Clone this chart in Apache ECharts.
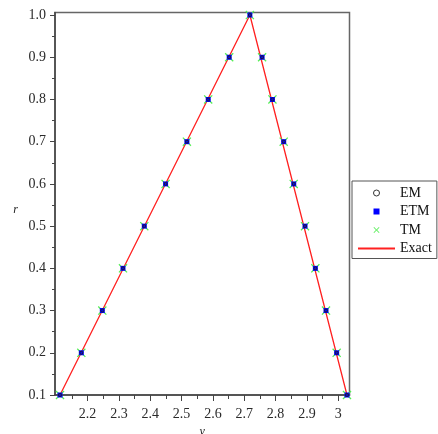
<!DOCTYPE html>
<html>
<head>
<meta charset="utf-8">
<script src="https://cdn.jsdelivr.net/npm/echarts@6/dist/echarts.min.js"></script>
<style>
html, body { margin: 0; padding: 0; background: #fff; }
#chart { width: 438px; height: 434px; }
</style>
</head>
<body>
<div id="chart"></div>
<script>
// r levels, left and right branch (y values)
const rValues = [0.1, 0.2, 0.3, 0.4, 0.5, 0.6, 0.7, 0.8, 0.9, 1.0];
const yLeft = [2.112, 2.180, 2.247, 2.313, 2.381, 2.449, 2.517, 2.585, 2.652, 2.718];
const yRight = [3.028, 2.995, 2.961, 2.927, 2.894, 2.858, 2.826, 2.790, 2.757, 2.718];
const exactY = [2.112, 2.718, 3.028];
const exactR = [0.1, 1.0, 0.1];

const xTicks = [2.2, 2.3, 2.4, 2.5, 2.6, 2.7, 2.8, 2.9, 3.0];
const xTickLabels = ['2.2', '2.3', '2.4', '2.5', '2.6', '2.7', '2.8', '2.9', '3'];
const xMinorTicks = [2.15, 2.25, 2.35, 2.45, 2.55, 2.65, 2.75, 2.85, 2.95];
const rTicks = [0.1, 0.2, 0.3, 0.4, 0.5, 0.6, 0.7, 0.8, 0.9, 1.0];
const rTickLabels = ['0.1', '0.2', '0.3', '0.4', '0.5', '0.6', '0.7', '0.8', '0.9', '1.0'];
const rMinorTicks = [0.15, 0.25, 0.35, 0.45, 0.55, 0.65, 0.75, 0.85, 0.95];

const points = [];
for (let i = 0; i < rValues.length; i++) points.push([yLeft[i], rValues[i]]);
for (let i = rValues.length - 2; i >= 0; i--) points.push([yRight[i], rValues[i]]);
const exactLine = exactY.map((v, i) => [v, exactR[i]]);

const xMin = 2.096, xMax = 3.036, rMin = 0.1, rMax = 1.006;
const serif = 'Liberation Serif';
const crossPath = 'path://M1,0L5,4L9,0L10,1L6,5L10,9L9,10L5,6L1,10L0,9L4,5L0,1Z';
const squarePath = 'path://M0,0H10V10H0Z';

const labelText = (vals, labels) => (v) => {
  const k = vals.findIndex(t => Math.abs(t - v) < 1e-6);
  return k >= 0 ? labels[k] : '';
};

const chart = echarts.init(document.getElementById('chart'));
chart.setOption({
  animation: false,
  grid: {
    left: 55, right: 88.5, top: 12.5, bottom: 39,
    outerBoundsMode: 'none', containLabel: false,
    show: true, borderColor: '#666', borderWidth: 1.5, backgroundColor: '#fff'
  },
  legend: {
    left: 352, top: 181,
    orient: 'vertical',
    padding: [5, 5, 3, 5],
    itemGap: 4.5,
    itemWidth: 37, itemHeight: 6,
    symbolKeepAspect: true,
    borderColor: '#555', borderWidth: 1,
    textStyle: { fontFamily: serif, fontSize: 14, color: '#111', lineHeight: 14 },
    data: [
      { name: 'EM', icon: 'circle', itemStyle: { color: 'transparent', borderColor: '#333', borderWidth: 1 } },
      { name: 'ETM', icon: squarePath, itemStyle: { color: '#0000ff' } },
      { name: 'TM', icon: crossPath, itemStyle: { color: '#55ee55' } },
      { name: 'Exact', itemStyle: { color: 'transparent', borderWidth: 0, opacity: 0 } }
    ]
  },
  xAxis: [{
    type: 'value', min: xMin, max: xMax,
    name: 'y', nameLocation: 'middle', nameGap: 27,
    nameTextStyle: { fontFamily: serif, fontStyle: 'italic', fontSize: 12, color: '#222' },
    axisLine: { show: true, onZero: false, lineStyle: { color: '#444', width: 1.5 } },
    axisTick: { show: true, length: 6, customValues: xTicks, lineStyle: { color: '#444' } },
    axisLabel: {
      customValues: xTicks, margin: 12,
      fontFamily: serif, fontSize: 14, color: '#2a2a2a',
      formatter: labelText(xTicks, xTickLabels)
    },
    splitLine: { show: false }
  }, {
    type: 'value', min: xMin, max: xMax, position: 'bottom',
    axisLine: { show: false },
    axisTick: { show: true, length: 4, customValues: xMinorTicks, lineStyle: { color: '#444' } },
    axisLabel: { show: false },
    splitLine: { show: false }
  }],
  yAxis: [{
    type: 'value', min: rMin, max: rMax,
    name: 'r', nameLocation: 'middle', nameGap: 37, nameRotate: 0,
    nameTextStyle: { fontFamily: serif, fontStyle: 'italic', fontSize: 12, color: '#222', verticalAlign: 'top' },
    axisLine: { show: true, onZero: false, lineStyle: { color: '#444', width: 1.5 } },
    axisTick: { show: true, length: 5, customValues: rTicks, lineStyle: { color: '#444' } },
    axisLabel: {
      customValues: rTicks, margin: 9,
      fontFamily: serif, fontSize: 14, color: '#2a2a2a',
      formatter: labelText(rTicks, rTickLabels)
    },
    splitLine: { show: false }
  }, {
    type: 'value', min: rMin, max: rMax, position: 'left',
    axisLine: { show: false },
    axisTick: { show: true, length: 3, customValues: rMinorTicks, lineStyle: { color: '#444' } },
    axisLabel: { show: false },
    splitLine: { show: false }
  }],
  series: [
    {
      name: 'Exact', type: 'line', data: exactLine, symbol: 'none',
      lineStyle: { color: '#ff2020', width: 1.3 }, itemStyle: { color: '#ff2020' }, z: 2
    },
    {
      name: 'TM', type: 'scatter', data: points, symbol: crossPath, symbolSize: 9,
      itemStyle: { color: '#55ee55', opacity: 1 }, z: 3
    },
    {
      name: 'ETM', type: 'scatter', data: points, symbol: 'rect', symbolSize: 5,
      itemStyle: { color: '#0000ff', opacity: 1 }, z: 4
    },
    {
      name: 'EM', type: 'scatter', data: points, symbol: 'circle', symbolSize: 3,
      itemStyle: { color: 'transparent', borderColor: '#222', borderWidth: 1, opacity: 1 }, z: 5
    }
  ]
});
</script>
</body>
</html>
